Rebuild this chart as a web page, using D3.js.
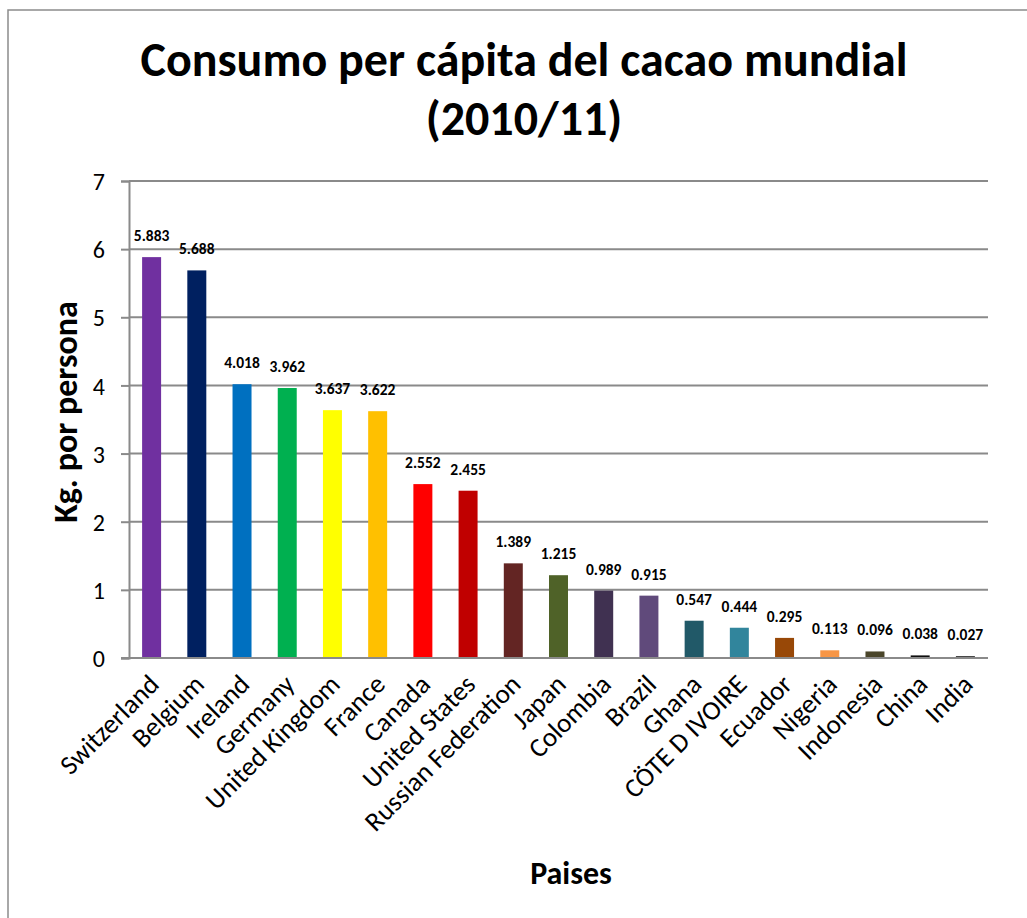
<!DOCTYPE html>
<html>
<head>
<meta charset="utf-8">
<script src="https://cdn.jsdelivr.net/npm/d3@7"></script>
<style>
  html, body { margin: 0; padding: 0; background: #fff; }
  svg { display: block; font-family: Carlito, Lato, "Open Sans", sans-serif; }
</style>
</head>
<body>
<svg id="chart" width="1027" height="918"></svg>
<script>
// Per-capita cocoa consumption, 2010/11 (kg per person)
const countries = ["Switzerland", "Belgium", "Ireland", "Germany", "United Kingdom", "France",
  "Canada", "United States", "Russian Federation", "Japan", "Colombia", "Brazil", "Ghana",
  "CÖTE D IVOIRE", "Ecuador", "Nigeria", "Indonesia", "China", "India"];
const consumption = [5.883, 5.688, 4.018, 3.962, 3.637, 3.622, 2.552, 2.455, 1.389, 1.215,
  0.989, 0.915, 0.547, 0.444, 0.295, 0.113, 0.096, 0.038, 0.027];
const barColors = ["#7030A0", "#002060", "#0070C0", "#00B050", "#FFFF00", "#FFC000",
  "#FF0000", "#C00000", "#632523", "#4F6228", "#403151", "#604A7B", "#215968",
  "#31859C", "#984807", "#F79646", "#4A452A", "#0D0D0D", "#262626"];
const yTicks = [0, 1, 2, 3, 4, 5, 6, 7];
const titleLines = ["Consumo per cápita del cacao mundial", "(2010/11)"];
const yTitle = "Kg. por persona";
const xTitle = "Paises";

const svg = d3.select("#chart");
const plot = { left: 129, right: 988, top: 181, bottom: 658 };

// outer chart frame
svg.append("rect")
  .attr("x", 8).attr("y", 10)
  .attr("width", 1100).attr("height", 1000)
  .attr("fill", "none").attr("stroke", "#8c8c8c").attr("stroke-width", 1.5);

const x = d3.scaleBand().domain(countries).range([plot.left, plot.right]).paddingInner(0.58).paddingOuter(0.29);
const y = d3.scaleLinear().domain([0, 7]).range([plot.bottom, plot.top]);

// horizontal gridlines
svg.append("g").selectAll("line").data(yTicks.filter(t => t > 0)).join("line")
  .attr("x1", plot.left).attr("x2", plot.right)
  .attr("y1", d => y(d)).attr("y2", d => y(d))
  .attr("stroke", "#8a8a8a").attr("stroke-width", 2);

// y axis
const yAxis = svg.append("g").attr("transform", `translate(${plot.left},0)`)
  .call(d3.axisLeft(y).tickValues(yTicks).tickSize(8).tickPadding(16).tickFormat(d3.format("d")));
yAxis.select(".domain").attr("stroke", "#8a8a8a").attr("stroke-width", 2);
yAxis.selectAll(".tick line").attr("stroke", "#8a8a8a").attr("stroke-width", 2);
yAxis.selectAll(".tick text").attr("font-size", 24).attr("fill", "#000")
  .attr("font-family", "Carlito, Lato, sans-serif").attr("dy", "0.36em");

// bars
svg.append("g").selectAll("rect").data(countries).join("rect")
  .attr("x", d => x(d))
  .attr("width", x.bandwidth())
  .attr("y", (d, i) => y(consumption[i]))
  .attr("height", (d, i) => y(0) - y(consumption[i]))
  .attr("fill", (d, i) => barColors[i]);

// x axis baseline
svg.append("line")
  .attr("x1", plot.left - 8).attr("x2", plot.right)
  .attr("y1", y(0)).attr("y2", y(0))
  .attr("stroke", "#8a8a8a").attr("stroke-width", 2);

// value labels
svg.append("g").selectAll("text").data(countries).join("text")
  .attr("x", d => x(d) + x.bandwidth() / 2)
  .attr("y", (d, i) => y(consumption[i]) - 16)
  .attr("text-anchor", "middle")
  .attr("font-size", 15.5).attr("font-weight", "bold").attr("fill", "#000")
  .text((d, i) => d3.format(".3f")(consumption[i]));

// category labels, rotated
svg.append("g").selectAll("text").data(countries).join("text")
  .attr("transform", d => `translate(${x(d) + x.bandwidth() / 2 + 9},${y(0) + 28}) rotate(-45)`)
  .attr("text-anchor", "end")
  .attr("font-size", 27).attr("fill", "#000")
  .text(d => d);

// title
svg.append("g").selectAll("text").data(titleLines).join("text")
  .attr("x", 524).attr("y", (d, i) => 76 + i * 59)
  .attr("text-anchor", "middle")
  .attr("font-size", 48).attr("font-weight", "bold").attr("fill", "#000")
  .text(d => d);

// axis titles
svg.append("text")
  .attr("transform", `translate(77,412) rotate(-90)`)
  .attr("text-anchor", "middle")
  .attr("font-size", 34).attr("font-weight", "bold").attr("fill", "#000")
  .text(yTitle);

svg.append("text")
  .attr("x", 571).attr("y", 884)
  .attr("text-anchor", "middle")
  .attr("font-size", 32).attr("font-weight", "bold").attr("fill", "#000")
  .text(xTitle);
</script>
</body>
</html>
